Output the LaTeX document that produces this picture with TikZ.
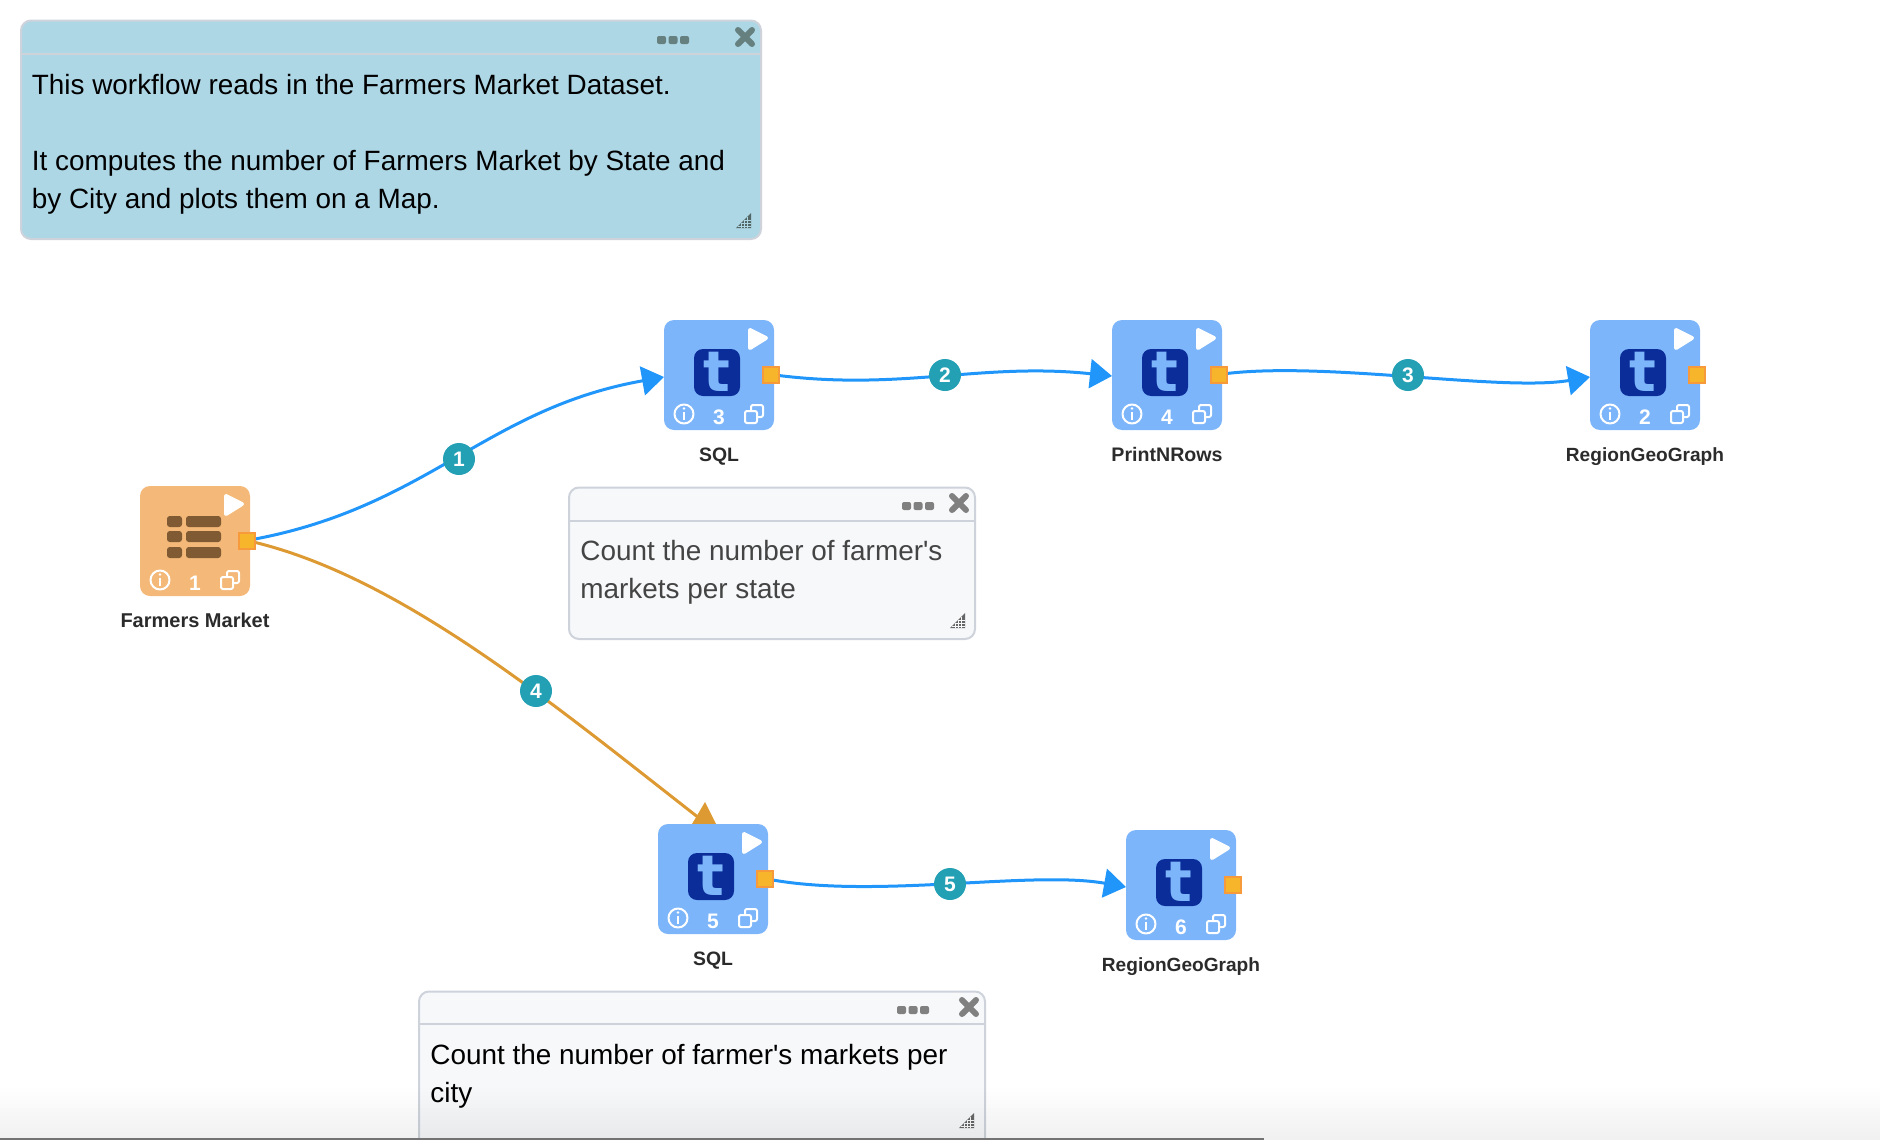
\documentclass[tikz,border=0pt]{standalone}
\usepackage{fontspec}
\setmainfont{Liberation Sans}
\newfontfamily\logofont{DejaVu Sans}
\usetikzlibrary{arrows.meta,backgrounds,calc,shapes.geometric}
\definecolor{cardblue}{HTML}{7DB5FA}
\definecolor{cardorange}{HTML}{F4B878}
\definecolor{logoblue}{HTML}{0B2D9A}
\definecolor{brownbar}{HTML}{7F5A32}
\definecolor{portfill}{HTML}{F7B52C}
\definecolor{portline}{HTML}{F79A3C}
\definecolor{wireblue}{HTML}{2196FA}
\definecolor{wireorange}{HTML}{DD9A33}
\definecolor{badgeteal}{HTML}{24A0B5}
\definecolor{noteblue}{HTML}{AED7E6}
\definecolor{notegrey}{HTML}{F7F8FA}
\definecolor{noteline}{HTML}{CED3DB}
\definecolor{labelink}{HTML}{2B2B2B}
\definecolor{notetext}{HTML}{444444}
\newcommand\notefontset{\fontsize{13.95}{19}\selectfont}
\tikzset{
  x=0.5pt,y=-0.5pt,
  cardbox/.style={rounded corners=5pt,minimum size=55pt,inner sep=0pt,outer sep=0pt,draw=none},
  portbox/.style={minimum size=8pt,inner sep=0pt,outer sep=0pt,fill=portfill,draw=portline,line width=1pt},
  cardlabel/.style={anchor=base,inner sep=0pt,font=\fontsize{10}{12}\selectfont\bfseries,text=labelink},
  cardnum/.style={inner sep=0pt,font=\fontsize{10.5}{12}\selectfont\bfseries,text=white},
  whitestroke/.style={draw=white,line width=1pt,line join=round},
  wire/.style={line width=1.5pt},
  bluewire/.style={wire,draw=wireblue,-{Triangle[length=11pt,width=14.5pt]}},
  badgedot/.style={circle,fill=badgeteal,minimum size=16pt,inner sep=0pt,text=white,font=\fontsize{10.5}{11}\selectfont\bfseries},
  notebody/.style={anchor=north west,inner sep=0pt,align=left,font=\notefontset},
  notebox/.style={rounded corners=5pt,draw=noteline,line width=1pt,inner sep=0pt,outer sep=0pt}
}
% card: name, cx, cy, number, label, fill, extra icon
\newcommand\workcard[7]{%
  \begin{scope}[shift={(#2,#3)}]
    \node[cardbox,fill=#6] (#1) at (0,0) {};
    \fill[white,draw=white,line width=2pt,line join=round] (31,-45) -- (31,-27) -- (47,-37) -- cycle;
    \draw[whitestroke] (-35,39) circle (9.5);
    \fill[white] (-35,33.5) circle (1.4);
    \draw[white,line width=1pt] (-35,37) -- (-35,44.5);
    \draw[whitestroke,rounded corners=1pt] (26,36) rectangle (38,48);
    \draw[whitestroke,rounded corners=1pt] (32,36) -- (32,30) -- (44,30) -- (44,42) -- (38,42);
    \node[cardnum] at (0,42) {#4};
    #7
    \node[cardlabel] at (0,86.5) {#5};
    \node[portbox] (#1port) at (52,-0.5) {};
  \end{scope}}
\newcommand\tlogo{%
  \fill[logoblue,rounded corners=4.5pt] (-25,-26) rectangle (21,21);
  \node[inner sep=0pt,text=cardblue,font=\logofont\bfseries\fontsize{28}{30}\selectfont] at (-2,-3) {t};}
\newcommand\tablelogo{%
  \foreach \ry in {-25,-10,6}{%
    \fill[brownbar,rounded corners=1.4pt] (-28,\ry) rectangle (-13,\ry+11);
    \fill[brownbar,rounded corners=1.4pt] (-9,\ry) rectangle (26,\ry+11);}}
% note furniture: dots-left, dots-y, x-cx, x-cy, grip-x, grip-y, colour, background
\newcommand\notetools[8]{%
  \foreach \dx in {4.5,16,27.5} \fill[#7,rounded corners=1pt] (#1+\dx-4.5,#2-4) rectangle (#1+\dx+4.5,#2+4);
  \draw[#7,line width=3pt,line cap=round] (#3-7,#4-7) -- (#3+7,#4+7) (#3-7,#4+7) -- (#3+7,#4-7);
  \fill[#7!80!black] (#5+15,#6) -- (#5+15,#6+15) -- (#5,#6+15) -- cycle;
  \draw[#8,line width=.25pt] (#5+5,#6+10) -- (#5+5,#6+15) (#5+8,#6+7) -- (#5+8,#6+15) (#5+11,#6+4) -- (#5+11,#6+15) (#5+5,#6+10) -- (#5+15,#6+10) (#5+8,#6+7) -- (#5+15,#6+7) (#5+2,#6+13) -- (#5+15,#6+13);}
\begin{document}
\begin{tikzpicture}
\useasboundingbox (0,0) rectangle (1880,1140);
% notes
\draw[notebox,fill=noteblue] (21,20.5) rectangle (761,239);
\draw[noteline,line width=1pt] (21,54) -- (761,54);
\notetools{657}{40}{745}{37}{736}{213}{gray!80!teal}{noteblue}
\node[notebody] (note1) at (31.5,67.4) {\strut This workflow reads in the Farmers Market Dataset.\\[19pt]
It computes the number of Farmers Market by State and\\
by City and plots them on a Map.};
\draw[notebox,fill=notegrey] (569,487.5) rectangle (975,639);
\draw[noteline,line width=1pt] (569,521) -- (975,521);
\notetools{902}{506}{959}{503}{950}{613}{gray}{notegrey}
\node[notebody,text=notetext] (note2) at (580,533) {\strut Count the number of farmer\textquotesingle s\\ markets per state};
\draw[notebox,fill=notegrey] (419,991.5) rectangle (985,1148);
\draw[noteline,line width=1pt] (419,1024) -- (985,1024);
\notetools{897}{1010}{969}{1007}{959}{1113}{gray}{notegrey}
\node[notebody] (note3) at (430,1037) {\strut Count the number of farmer\textquotesingle s markets per\\ city};
% cards
\workcard{fm}{195}{541}{1}{Farmers Market}{cardorange}{\tablelogo}
\workcard{sqla}{719}{375}{3}{\fontsize{9.7}{12}\selectfont SQL}{cardblue}{\tlogo}
\workcard{print}{1167}{375}{4}{\fontsize{9.8}{12}\selectfont PrintNRows}{cardblue}{\tlogo}
\workcard{rgga}{1645}{375}{2}{\fontsize{9.55}{12}\selectfont RegionGeoGraph}{cardblue}{\tlogo}
\workcard{sqlb}{713}{879}{5}{\fontsize{9.7}{12}\selectfont SQL}{cardblue}{\tlogo}
\workcard{rggb}{1181}{885}{6}{\fontsize{9.55}{12}\selectfont RegionGeoGraph}{cardblue}{\tlogo}
% badges
\node[badgedot] (b1) at (459,459) {1};
\node[badgedot] (b2) at (945,375) {2};
\node[badgedot] (b3) at (1408,375) {3};
\node[badgedot] (b4) at (536,691) {4};
\node[badgedot] (b5) at (950,884) {5};
\coordinate (w4end) at ($(sqlb.north)+(-14,-6)$);
\begin{scope}[on background layer]
\draw[bluewire] (fmport.center) .. controls (427,509) and (484,409) .. ($(sqla.west)+(0,2)$);
\draw[bluewire] (sqlaport.center) .. controls (900,392) and (980,362) .. ($(print.west)+(0,1)$);
\draw[bluewire] (printport.center) .. controls (1320,360) and (1500,392) .. ($(rgga.west)+(0,2)$);
\draw[bluewire] (sqlbport.center) .. controls (870,900) and (1030,870) .. ($(rggb.west)+(0,2)$);
\draw[wire,draw=wireorange] (fmport.center) .. controls (397,574) and (549,701) .. (w4end);
\fill[wireorange] ($(sqlb.north)+(-8,-22)$) -- ($(sqlb.north)+(-21,0)$) -- ($(sqlb.north)+(3,0)$) -- cycle;
\end{scope}
% fading along the bottom edge
\foreach \gy [evaluate=\gy as \gop using {(\gy-1084)/56*0.06}] in {1084,1088,...,1136}
  \fill[black,opacity=\gop] (0,\gy) rectangle (1880,\gy+4);
\fill[black!55] (0,1138) rectangle (1264,1140);
\end{tikzpicture}
\end{document}
